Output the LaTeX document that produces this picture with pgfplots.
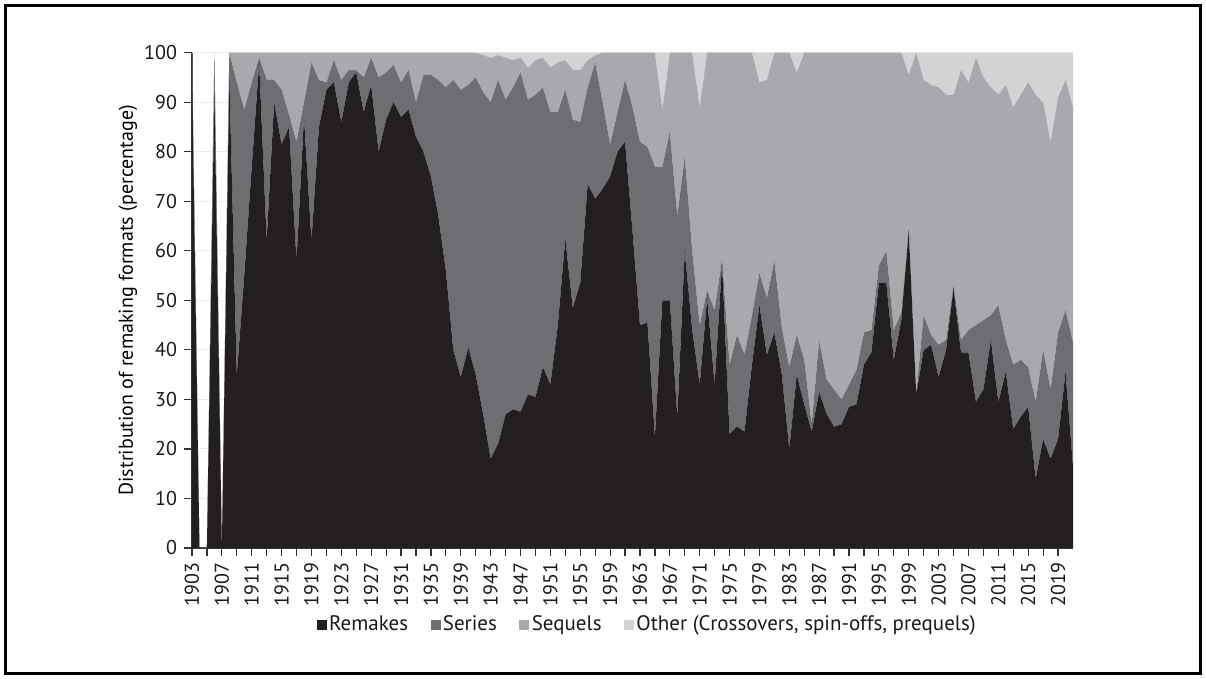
\documentclass[border=0pt]{standalone}
\usepackage{fontspec}
\setmainfont{PT Sans}
\usepackage{pgfplots}
\usepackage{pgfplotstable}
\pgfplotsset{compat=1.18}

\definecolor{remk}{HTML}{231F20}
\definecolor{seri}{HTML}{6D6E71}
\definecolor{sequ}{HTML}{A7A9AC}
\definecolor{othr}{HTML}{D1D3D4}

% shares per year (percent): remakes, series, sequels, other
\pgfplotstableread{
year R S Q O
1903 95 5 0 0
1904 0 0 0 0
1905 0 0 0 0
1906 92 8 0 0
1907 0 0 0 0
1908 95 5 0 0
1909 35 59 6 0
1910 55 33.5 11.5 0
1911 77 17 6 0
1912 98 1 1 0
1913 62 32.5 5.5 0
1914 90 4.5 5.5 0
1915 81.5 11 7.5 0
1916 85 2.5 12.5 0
1917 58 24 18 0
1918 87 3 10 0
1919 62 36 2 0
1920 85 9.5 5.5 0
1921 92.5 1.5 6 0
1922 94 4.5 1.5 0
1923 86 8.5 5.5 0
1924 94 2.5 3.5 0
1925 96 0.5 3.5 0
1926 88 7 5 0
1927 93.5 5.5 1 0
1928 80 15 5 0
1929 86.5 9.5 4 0
1930 90 7.5 2.5 0
1931 87 7 6 0
1932 88.5 8 3.5 0
1933 83 7 10 0
1934 80 15.5 4.5 0
1935 75 20.5 4.5 0
1936 67 27.5 5.5 0
1937 56 37 7 0
1938 40 54.5 5.5 0
1939 34.5 58 7.5 0
1940 40.5 53 6.5 0
1941 35 60 5 0
1942 27 65 7.5 0.5
1943 18 72 9 1
1944 21 73.5 5 0.5
1945 27 63.5 8.5 1
1946 28 65 5.5 1.5
1947 27.5 68.5 3 1
1948 31 59.5 6.5 3
1949 30.5 61 7 1.5
1950 36.5 56.5 6 1
1951 33 55 9 3
1952 45 43 10 2
1953 62.5 30 6 1.5
1954 48.5 38 10 3.5
1955 53.5 32.5 10.5 3.5
1956 73.5 19.5 5.5 1.5
1957 70.5 27.5 1.5 0.5
1958 72.5 17.5 10 0
1959 75 6.5 18.5 0
1960 80 8 12 0
1961 82 12.5 5.5 0
1962 64 25 11 0
1963 45 37 18 0
1964 45.5 35.5 19 0
1965 22.5 54.5 23 0
1966 50 27 11.5 11.5
1967 50 34 16 0
1968 26.5 40.5 33 0
1969 60 19 21 0
1970 44 16 40 0
1971 33 12 44 11
1972 50.5 1.5 48 0
1973 33 15 52 0
1974 57.5 1 41.5 0
1975 23 14 63 0
1976 24.5 18.5 57 0
1977 23.5 15.5 61 0
1978 37 10 53 0
1979 49 6.5 38.5 6
1980 39 11.5 44 5.5
1981 43.5 14.5 42 0
1982 35 9.5 55.5 0
1983 20 16.5 63.5 0
1984 35 8 53 4
1985 29 9 62 0
1986 23.5 1.5 75 0
1987 31.5 10.5 58 0
1988 27 7 66 0
1989 24.5 7.5 68 0
1990 25 5 70 0
1991 28.5 4.5 67 0
1992 29 7 64 0
1993 37 6.5 56.5 0
1994 39.5 4.5 56 0
1995 53.5 3.5 43 0
1996 53.5 6.5 40 0
1997 38 6 56 0
1998 46 1.5 52.5 0
1999 64 0.5 31 4.5
2000 31 0 69 0
2001 40 7 47.5 5.5
2002 41 2 50.5 6.5
2003 34.5 6.5 52 7
2004 40 2 49.5 8.5
2005 52.5 0.5 38.5 8.5
2006 39.5 2.5 54.5 3.5
2007 39.5 4.5 50 6
2008 29.5 15.5 54 1
2009 32 14 49 5
2010 42 5 46 7
2011 29.5 19.5 42.5 8.5
2012 35.5 6.5 51.5 6.5
2013 24 13 52 11
2014 26.5 11.5 53.5 8.5
2015 28.5 8 57.5 6
2016 14 15.5 62 8.5
2017 22 18 50 10
2018 18 14 50 18
2019 22 21.5 47.5 9
2020 35.5 12.5 46.5 5.5
2021 16.5 25 47.5 11
}\formats

\begin{document}
\begin{tikzpicture}
\useasboundingbox (-96pt,-65.5pt) rectangle (507pt,274pt);
\draw[line width=1.35pt] (-93.35pt,-62.85pt) rectangle (504.35pt,271.35pt);
\begin{axis}[
  at={(0,0)}, anchor=south west,
  scale only axis, width=440.5pt, height=247.65pt,
  xmin=1903, xmax=2021, ymin=0, ymax=100,
  stack plots=y,
  axis x line*=bottom, axis y line*=left,
  axis line style={draw=black!80, line width=0.6pt},
  tick style={draw=black!80, line width=0.6pt},
  tick align=outside,
  major tick length=4pt, minor tick length=4pt,
  xtick={1903,1907,...,2019},
  minor xtick={1905,1909,...,2017},
  ytick={0,10,...,100},
  ymajorgrids,
  major grid style={draw=black!8, line width=0.5pt},
  /pgf/number format/assume math mode=true,
  /pgf/number format/1000 sep={},
  tick label style={font=\fontsize{10}{12}\selectfont, text=black!90},
  x tick label style={rotate=90, anchor=east},
  label style={font=\fontsize{10.5}{12.5}\selectfont, text=black!90},
  ylabel={Distribution of remaking formats (percentage)},
  every axis y label/.style={at={(axis description cs:-0.0726,0.5)}, rotate=90, anchor=center},
  legend image code/.code={\fill[#1] (0pt,-2.5pt) rectangle (5pt,2.5pt);},
  legend style={at={(axis description cs:0.517,-0.1555)}, anchor=center,
    draw=none, fill=none, legend columns=-1, inner sep=0pt,
    font=\fontsize{10.5}{12.5}\selectfont, text=black!90,
    nodes={inner xsep=1.2pt},
    /tikz/every even column/.append style={column sep=10pt}},
]
\addplot[fill=remk, draw=none] table[x=year, y=R] {\formats} \closedcycle;
\addplot[fill=seri, draw=none] table[x=year, y=S] {\formats} \closedcycle;
\addplot[fill=sequ, draw=none] table[x=year, y=Q] {\formats} \closedcycle;
\addplot[fill=othr, draw=none] table[x=year, y=O] {\formats} \closedcycle;
\legend{Remakes, Series, Sequels, {Other (Crossovers, spin-offs, prequels)}}
\end{axis}
\end{tikzpicture}
\end{document}
